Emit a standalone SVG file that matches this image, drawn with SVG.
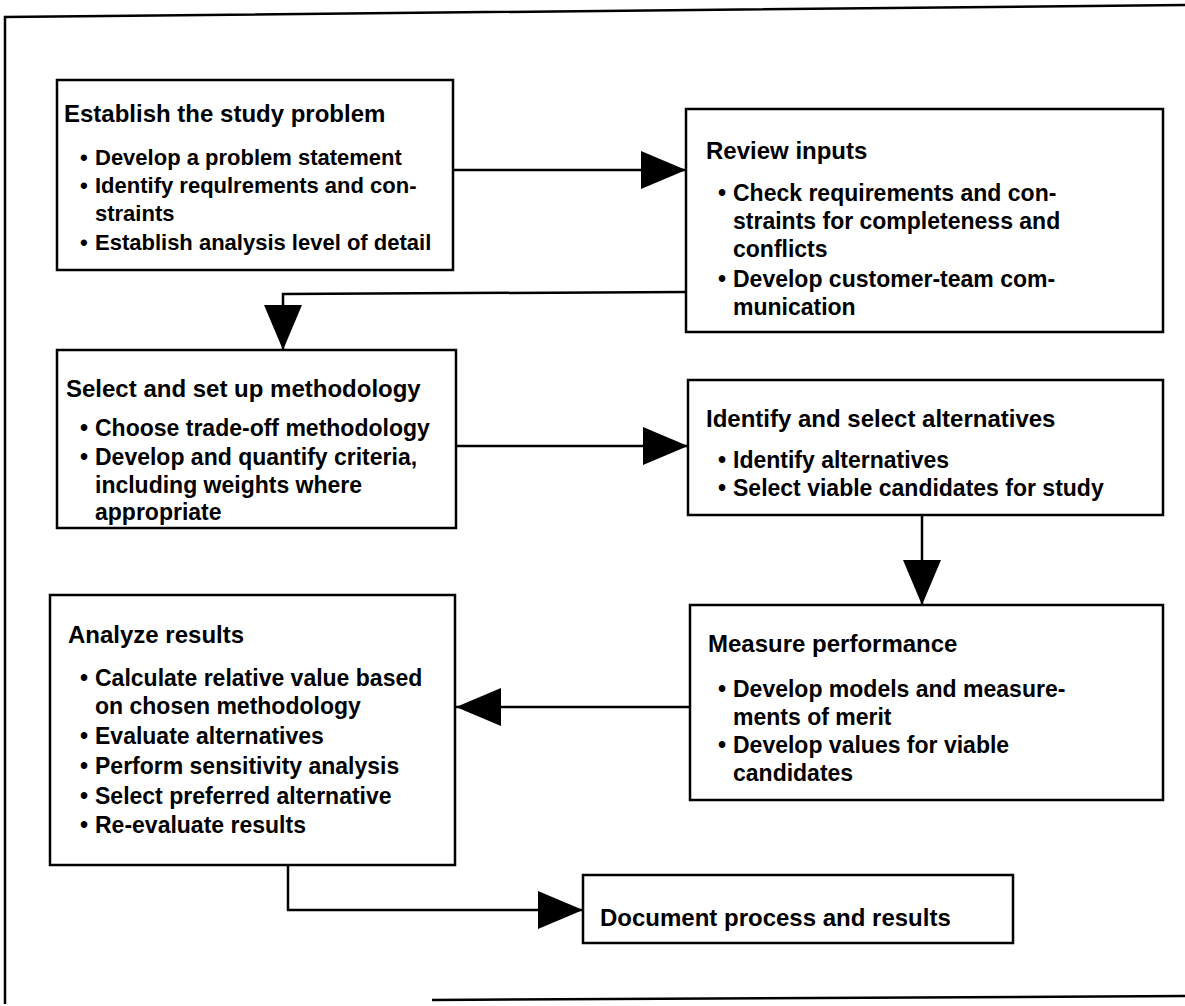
<svg xmlns="http://www.w3.org/2000/svg" width="1185" height="1006" viewBox="0 0 1185 1006">
<style>
.box{fill:#fff;stroke:#000;stroke-width:2.5}
.ln{fill:none;stroke:#000;stroke-width:2.5}
.t{font-family:"Liberation Sans",Arial,sans-serif;font-weight:bold;font-size:24px;fill:#000}
.b{font-family:"Liberation Sans",Arial,sans-serif;font-weight:bold;font-size:23px;fill:#000}
#n1 .b{font-size:22px}
</style>
<defs>
<marker id="ah" markerWidth="45" markerHeight="38" refX="45" refY="19" orient="auto" markerUnits="userSpaceOnUse">
<path d="M0,0 L45,19 L0,38 Z" fill="#000"/>
</marker>
</defs>
<rect width="1185" height="1006" fill="#fff"/>
<g id="frame">
<path class="ln" d="M1185,5 L5,17 L5,1004"/>
<path class="ln" d="M432,1000 L1185,996"/>
</g>
<g id="connectors">
<path class="ln" d="M453,170 L686,170" marker-end="url(#ah)"/>
<path class="ln" d="M686,292 L283,294 L283,350" marker-end="url(#ah)"/>
<path class="ln" d="M456,446 L688,446" marker-end="url(#ah)"/>
<path class="ln" d="M922,515 L922,605" marker-end="url(#ah)"/>
<path class="ln" d="M690,707 L456,707" marker-end="url(#ah)"/>
<path class="ln" d="M288,865 L288,910 L583,910" marker-end="url(#ah)"/>
</g>
<g id="n1">
<rect class="box" x="57" y="80" width="396" height="190"/>
<text class="t" x="64" y="122">Establish the study problem</text>
<text class="b" x="80" y="165">•</text><text class="b" x="95" y="165">Develop a problem statement</text>
<text class="b" x="80" y="193">•</text><text class="b" x="95" y="193">Identify requlrements and con-</text>
<text class="b" x="95" y="221">straints</text>
<text class="b" x="80" y="250">•</text><text class="b" x="95" y="250">Establish analysis level of detail</text>
</g>
<g id="n2">
<rect class="box" x="686" y="109" width="477" height="223"/>
<text class="t" x="706" y="159">Review inputs</text>
<text class="b" x="718" y="201">•</text><text class="b" x="733" y="201">Check requirements and con-</text>
<text class="b" x="733" y="229">straints for completeness and</text>
<text class="b" x="733" y="257">conflicts</text>
<text class="b" x="718" y="287">•</text><text class="b" x="733" y="287">Develop customer-team com-</text>
<text class="b" x="733" y="315">munication</text>
</g>
<g id="n3">
<rect class="box" x="57" y="350" width="399" height="178"/>
<text class="t" x="66" y="397">Select and set up methodology</text>
<text class="b" x="80" y="436">•</text><text class="b" x="95" y="436">Choose trade-off methodology</text>
<text class="b" x="80" y="465">•</text><text class="b" x="95" y="465">Develop and quantify criteria,</text>
<text class="b" x="95" y="493">including weights where</text>
<text class="b" x="95" y="520">appropriate</text>
</g>
<g id="n4">
<rect class="box" x="688" y="380" width="475" height="135"/>
<text class="t" x="706" y="427">Identify and select alternatives</text>
<text class="b" x="718" y="468">•</text><text class="b" x="733" y="468">Identify alternatives</text>
<text class="b" x="718" y="496">•</text><text class="b" x="733" y="496">Select viable candidates for study</text>
</g>
<g id="n5">
<rect class="box" x="690" y="605" width="473" height="195"/>
<text class="t" x="708" y="652">Measure performance</text>
<text class="b" x="718" y="697">•</text><text class="b" x="733" y="697">Develop models and measure-</text>
<text class="b" x="733" y="725">ments of merit</text>
<text class="b" x="718" y="753">•</text><text class="b" x="733" y="753">Develop values for viable</text>
<text class="b" x="733" y="781">candidates</text>
</g>
<g id="n6">
<rect class="box" x="50" y="595" width="405" height="270"/>
<text class="t" x="68" y="643">Analyze results</text>
<text class="b" x="80" y="686">•</text><text class="b" x="95" y="686">Calculate relative value based</text>
<text class="b" x="95" y="714">on chosen methodology</text>
<text class="b" x="80" y="744">•</text><text class="b" x="95" y="744">Evaluate alternatives</text>
<text class="b" x="80" y="774">•</text><text class="b" x="95" y="774">Perform sensitivity analysis</text>
<text class="b" x="80" y="804">•</text><text class="b" x="95" y="804">Select preferred alternative</text>
<text class="b" x="80" y="833">•</text><text class="b" x="95" y="833">Re-evaluate results</text>
</g>
<g id="n7">
<rect class="box" x="583" y="875" width="430" height="68"/>
<text class="t" x="600" y="926">Document process and results</text>
</g>
</svg>
